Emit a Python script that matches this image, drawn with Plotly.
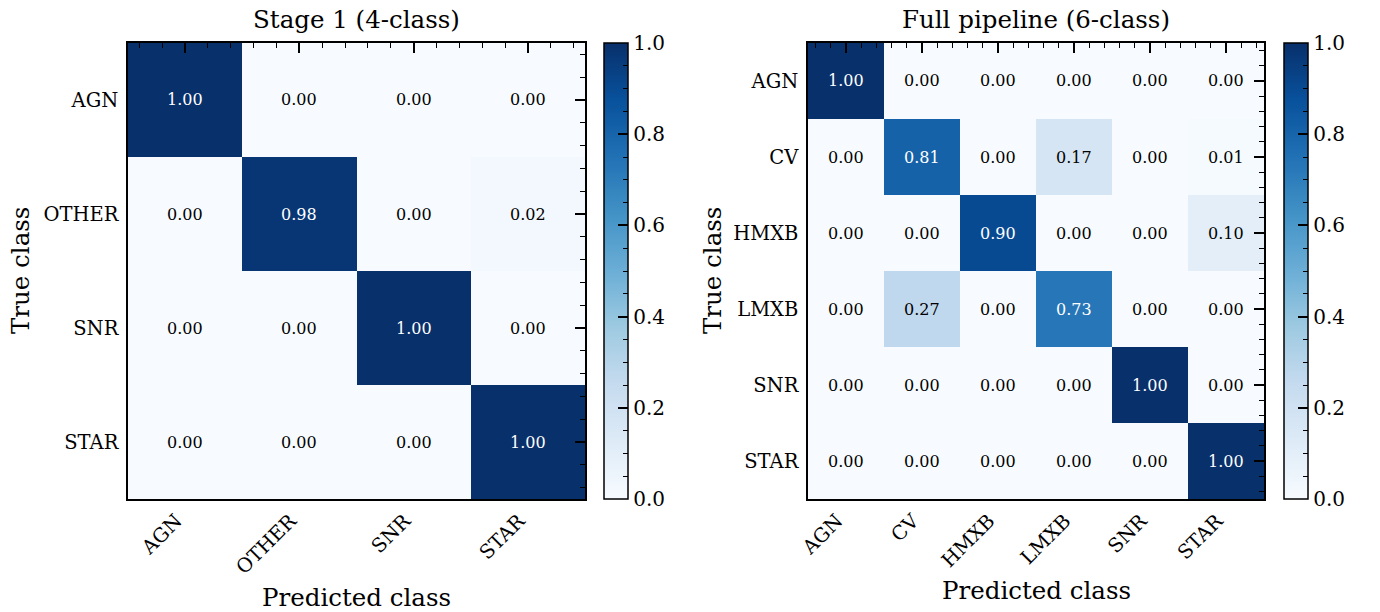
import plotly.graph_objects as go

W, H = 1380, 612
FONT = "DejaVu Serif"

# ---------------- data ----------------
classes4 = ["AGN", "OTHER", "SNR", "STAR"]
cm4 = [
    [1.00, 0.00, 0.00, 0.00],
    [0.00, 0.98, 0.00, 0.02],
    [0.00, 0.00, 1.00, 0.00],
    [0.00, 0.00, 0.00, 1.00],
]
classes6 = ["AGN", "CV", "HMXB", "LMXB", "SNR", "STAR"]
cm6 = [
    [1.00, 0.00, 0.00, 0.00, 0.00, 0.00],
    [0.00, 0.81, 0.00, 0.17, 0.00, 0.01],
    [0.00, 0.00, 0.90, 0.00, 0.00, 0.10],
    [0.00, 0.27, 0.00, 0.73, 0.00, 0.00],
    [0.00, 0.00, 0.00, 0.00, 1.00, 0.00],
    [0.00, 0.00, 0.00, 0.00, 0.00, 1.00],
]
cbar_ticks = [0.0, 0.2, 0.4, 0.6, 0.8, 1.0]
cbar_ticktext = ["0.0", "0.2", "0.4", "0.6", "0.8", "1.0"]
titles = ["Stage 1 (4-class)", "Full pipeline (6-class)"]

blues = ["#f7fbff", "#deebf7", "#c6dbef", "#9ecae1", "#6baed6",
         "#4292c6", "#2171b5", "#08519c", "#08306b"]
colorscale = [[i / 8, c] for i, c in enumerate(blues)]
clear = [[0, "rgba(0,0,0,0)"], [1, "rgba(0,0,0,0)"]]

# ---------------- layout geometry (pixels) ----------------
top_px, bot_px = 43, 499
panels = [
    dict(x0=128, x1=585, cb0=604, classes=classes4, cm=cm4, tx=356, ytitle_x=20, xtitle_y=597),
    dict(x0=808, x1=1264, cb0=1284, classes=classes6, cm=cm6, tx=1036, ytitle_x=712, xtitle_y=590),
]

fig = go.Figure()
layout = dict(
    width=W, height=H,
    margin=dict(l=0, r=0, t=0, b=0, pad=0, autoexpand=False),
    paper_bgcolor="white", plot_bgcolor="white",
    font=dict(family=FONT, color="black"),
    showlegend=False,
)
annotations = []
ydom = [1 - bot_px / H, 1 - top_px / H]
cb_len = (bot_px - top_px) / H
cb_y = 1 - (top_px + bot_px) / 2 / H

for i, p in enumerate(panels):
    n = len(p["classes"])
    ax = 2 * i + 1        # main axes
    ov = 2 * i + 2        # overlay axes for top/right ticks
    xs = "x" if ax == 1 else f"x{ax}"
    ys = "y" if ax == 1 else f"y{ax}"
    xo, yo = f"x{ov}", f"y{ov}"
    idx = list(range(n))

    cbar_common = dict(
        x=p["cb0"] / W, xanchor="left", y=cb_y, yanchor="middle",
        len=cb_len, lenmode="fraction", thickness=24, thicknessmode="pixels",
        xpad=0, ypad=0,
    )
    fig.add_trace(go.Heatmap(
        z=p["cm"], x=idx, y=idx, colorscale=colorscale, zmin=0, zmax=1,
        xaxis=xs, yaxis=ys, hoverinfo="skip", xgap=0, ygap=0,
        colorbar=dict(
            **cbar_common,
            outlinewidth=1.5, outlinecolor="black",
            ticks="inside", ticklen=10, tickwidth=1.5, tickcolor="black",
            tickvals=cbar_ticks, ticktext=cbar_ticktext,
            tickfont=dict(size=20, family=FONT, color="black"),
        ),
    ))
    # minor ticks for the colorbar (transparent overlay bar)
    fig.add_trace(go.Scatter(
        x=[None], y=[None], mode="markers", xaxis=xs, yaxis=ys, hoverinfo="skip",
        marker=dict(color=[0], cmin=0, cmax=1, colorscale=clear, showscale=True,
                    colorbar=dict(**cbar_common, outlinewidth=0,
                                  ticks="inside", ticklen=5, tickwidth=1.2,
                                  tickcolor="black", tickmode="linear",
                                  tick0=0, dtick=0.05, showticklabels=False)),
    ))
    # empty trace for overlay axes
    fig.add_trace(go.Scatter(x=[None], y=[None], mode="markers", xaxis=xo, yaxis=yo,
                             hoverinfo="skip"))

    xdom = [p["x0"] / W, p["x1"] / W]
    base = dict(showgrid=False, zeroline=False, showline=True, linecolor="black",
                linewidth=1.5, mirror=True, ticks="", tickfont=dict(size=19.5, family=FONT),
                tickmode="array", tickvals=idx, ticktext=p["classes"], automargin=False)
    layout[f"xaxis{'' if ax == 1 else ax}"] = dict(
        **base, domain=xdom, range=[-0.5, n - 0.5], anchor=ys, tickangle=-45,
        ticklabelstandoff=1, ticklabelshift=-9)
    layout[f"yaxis{'' if ax == 1 else ax}"] = dict(
        **base, domain=ydom, range=[n - 0.5, -0.5], anchor=xs, ticklabelstandoff=4)
    tickov = dict(showgrid=False, zeroline=False, showline=False, showticklabels=False,
                  ticks="inside", ticklen=10, tickwidth=1.5, tickcolor="black",
                  tickmode="linear", tick0=0, dtick=1, automargin=False,
                  minor=dict(ticks="inside", ticklen=5, tickwidth=1.2, tickcolor="black",
                             tickmode="linear", tick0=0, dtick=0.2, showgrid=False))
    layout[f"xaxis{ov}"] = dict(**tickov, overlaying=xs, side="top", anchor=yo,
                                domain=xdom, range=[-0.5, n - 0.5])
    layout[f"yaxis{ov}"] = dict(**tickov, overlaying=ys, side="right", anchor=xo,
                                domain=ydom, range=[n - 0.5, -0.5])

    # cell value annotations
    for r in range(n):
        for c in range(n):
            v = p["cm"][r][c]
            annotations.append(dict(
                x=c, y=r, xref=xs, yref=ys, text=f"{v:.2f}", showarrow=False,
                font=dict(size=16, family=FONT, color="white" if v > 0.5 else "black"),
            ))
    # titles
    annotations.append(dict(x=p["tx"] / W, y=1 - 19 / H, xref="paper", yref="paper",
                            text=titles[i], showarrow=False, xanchor="center",
                            yanchor="middle", font=dict(size=24.5, family=FONT)))
    annotations.append(dict(x=(p["x0"] + p["x1"]) / 2 / W, y=1 - p["xtitle_y"] / H,
                            xref="paper", yref="paper", text="Predicted class",
                            showarrow=False, xanchor="center", yanchor="middle",
                            font=dict(size=24.5, family=FONT)))
    annotations.append(dict(x=p["ytitle_x"] / W, y=cb_y, xref="paper", yref="paper",
                            text="True class", showarrow=False, textangle=-90,
                            xanchor="center", yanchor="middle",
                            font=dict(size=24.5, family=FONT)))

layout["annotations"] = annotations
fig.update_layout(**layout)
fig.write_html("out.html")
